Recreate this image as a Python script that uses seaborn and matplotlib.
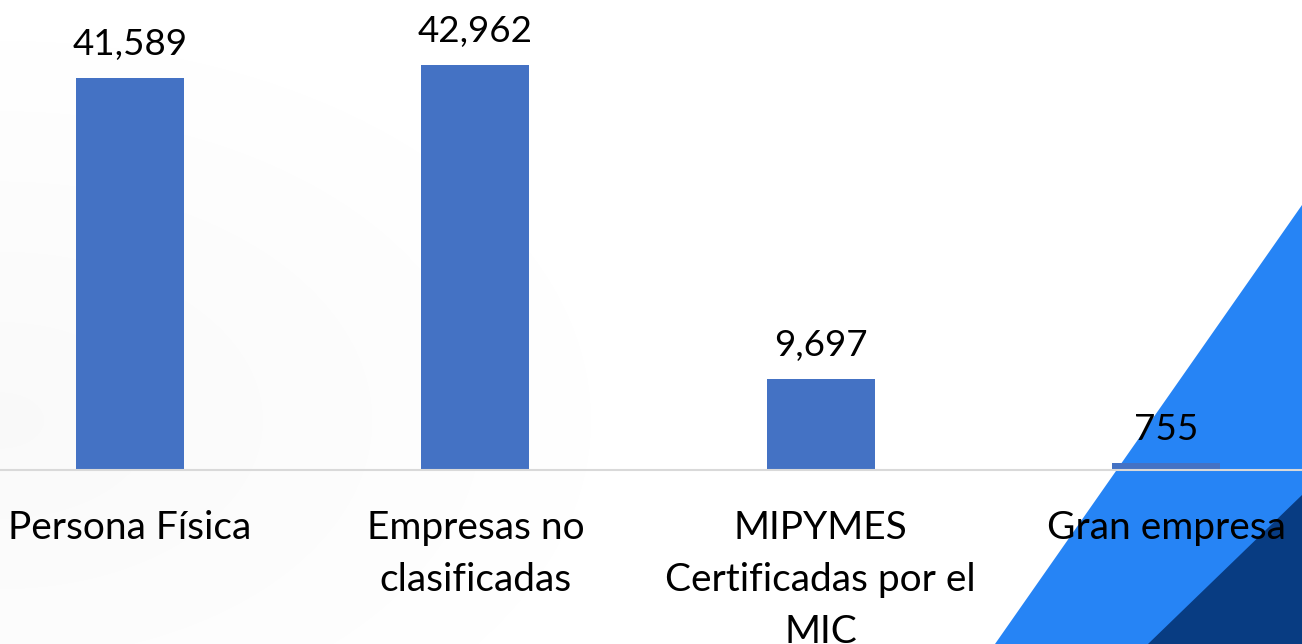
import numpy as np
import pandas as pd
import matplotlib
matplotlib.use("Agg")
import matplotlib.pyplot as plt
import seaborn as sns
from matplotlib.patches import Polygon

categories = ["Persona Física", "Empresas no\nclasificadas",
              "MIPYMES\nCertificadas por el\nMIC", "Gran empresa"]
values = [41589, 42962, 9697, 755]

sns.set_theme(style="white")
plt.rcParams['font.family'] = ['Lato', 'DejaVu Sans']

W, H = 1302, 644
fig = plt.figure(figsize=(W / 100, H / 100), dpi=100)
fig.patch.set_facecolor("white")

# background decoration axes (full figure, pixel coordinates)
bg = fig.add_axes([0, 0, 1, 1], zorder=-1)
bg.set_xlim(0, W)
bg.set_ylim(H, 0)
bg.axis("off")
yy, xx = np.mgrid[0:H, 0:W]
r = np.sqrt(((xx - 0) / 700.0) ** 2 + ((yy - 420) / 450.0) ** 2)
shade = np.clip(0.975 + 0.025 * r, 0.975, 1.0)
bg.imshow(shade, cmap="gray", vmin=0, vmax=1, extent=(0, W, H, 0), aspect="auto")
bg.add_patch(Polygon([(1302, 205), (995, 644), (1302, 644)], closed=True,
                     facecolor="#2684F5", edgecolor="none"))
bg.add_patch(Polygon([(1302, 495), (1148, 644), (1302, 644)], closed=True,
                     facecolor="#083C82", edgecolor="none"))

# chart axes
base_px = 470
ax = fig.add_axes([0, (H - base_px) / H, 1, base_px / H])
ax.patch.set_alpha(0)
df = pd.DataFrame({"cat": categories, "val": values})
sns.barplot(data=df, x="cat", y="val", color="#4472C4", saturation=1,
            width=0.313, edgecolor="none", linewidth=0, ax=ax)
px_per_unit = (1166 - 130) / 3.0
ax.set_xlim(-130 / px_per_unit, (W - 130) / px_per_unit)
ymax = base_px / (405.0 / 42962)
ax.set_ylim(0, ymax)

for c in ax.containers:
    ax.bar_label(c, labels=[f"{v:,.0f}" for v in values], padding=12,
                 fontsize=26.5, color="black")

ax.set_xlabel("")
ax.set_ylabel("")
ax.set_yticks([])
ax.tick_params(axis="x", length=0, pad=29, labelsize=28, labelcolor="black")
for lab in ax.get_xticklabels():
    lab.set_linespacing(1.55)
for s in ["top", "left", "right"]:
    ax.spines[s].set_visible(False)
ax.spines["bottom"].set_color("#D9D9D9")
ax.spines["bottom"].set_linewidth(1.5)

fig.savefig("out.png", dpi=100)
